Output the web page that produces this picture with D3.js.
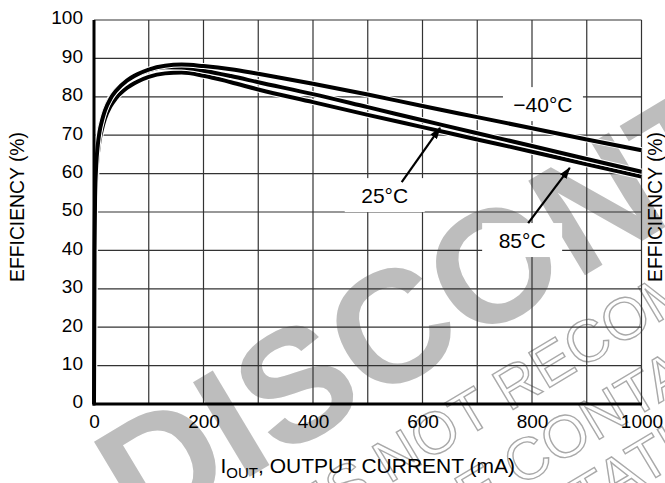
<!DOCTYPE html>
<html>
<head>
<meta charset="utf-8">
<script src="https://cdn.jsdelivr.net/npm/d3@7"></script>
<style>
  body { margin: 0; background: #fff; }
  svg { display: block; }
  text { font-family: "Liberation Sans", Arial, Helvetica, sans-serif; }
</style>
</head>
<body>
<div id="js-svg-container"></div>
<script>
// output current (mA) sampled along the curves
let currents = [0, 1, 2, 4, 7, 10, 15, 20, 30, 40, 60, 80, 100, 130, 160, 200, 250, 300, 400, 500, 600, 700, 800, 900, 1000];

// efficiency (%) per temperature
let effM40 = [0, 40, 54, 62, 67.5, 70.8, 74, 76.4, 79.5, 81.5, 84.2, 85.9, 87.1, 88.1, 88.4, 88.0, 87.2, 86.0, 83.4, 80.6, 77.6, 74.7, 71.8, 68.9, 66.1];
let eff25 = [0, 42, 56, 63.5, 68.5, 71.5, 74.5, 76.8, 79.8, 81.7, 84.2, 85.8, 86.9, 87.7, 87.6, 86.8, 85.4, 83.8, 80.7, 77.3, 73.9, 70.5, 67.2, 63.8, 60.5];
let eff85 = [0, 36, 50, 59, 65, 68.5, 71.8, 74.3, 77.5, 79.6, 82.3, 84.0, 85.2, 86.1, 86.3, 85.5, 83.8, 81.9, 78.6, 75.3, 72.1, 68.9, 65.7, 62.4, 59.2];

let xTicks = [0, 200, 400, 600, 800, 1000];
let yTicks = [0, 10, 20, 30, 40, 50, 60, 70, 80, 90, 100];

// temperature labels, anchored in data units (mA, %)
let tempLabels = ['\u221240\u00b0C', '25\u00b0C', '85\u00b0C'];
let labelCurrent = [820, 531, 782];
let labelEff = [78.1, 54.4, 42.7];

// arrows: [current, efficiency] for tail and tip
let arrowTails = [[562, 57.8], [793, 47.1]];
let arrowTips = [[632, 71.9], [869, 61.5]];

let width = 665, height = 483;
let margin = { top: 20, bottom: 79, left: 94, right: 23.5 };

let x = d3.scaleLinear()
    .domain([0, 1000])
    .range([margin.left, width - margin.right]);

let y = d3.scaleLinear()
    .domain([0, 100])
    .range([height - margin.bottom, margin.top]);

let svg = d3.select('#js-svg-container')
    .append('svg')
    .attr('width', width)
    .attr('height', height);

// ---- watermark (under everything) ----
let wm = svg.append('g').attr('transform', 'translate(389,484) rotate(-31)');

wm.append('text')
    .attr('x', -242)
    .attr('y', -78)
    .attr('fill', '#bdbdbd')
    .style('font-size', '160px')
    .style('font-weight', 'bold')
    .text('DISCONTINUED');

function textWidth(str, size) {
    let t = svg.append('text').style('font-size', size + 'px').text(str);
    let w = t.node().getComputedTextLength();
    t.remove();
    return w;
}

let wmLines = [
    { pre: 'THIS DEVICE IS ', rest: 'NOT RECOMMENDED FOR NEW DESIGN.', x: 0, y: 0 },
    { pre: 'PLEASE ', rest: 'CONTACT YOUR ON SEMICONDUCTOR', x: 110, y: 70 },
    { pre: 'REPRESEN', rest: 'TATIVE FOR INFORMATION', x: 150, y: 132 }
];

wmLines.forEach(l => {
    let pre = l.pre.replace(/ $/, '\u00a0');
    let w = textWidth(pre, 59);
    wm.append('text')
        .attr('x', l.x - w)
        .attr('y', l.y)
        .attr('fill', 'none')
        .attr('stroke', '#a9a9a9')
        .attr('stroke-width', 1.4)
        .style('font-size', '59px')
        .text(pre + l.rest);
});

// ---- grid ----
let grid = svg.append('g');

grid.selectAll('.vgrid')
    .data(x.ticks(10).filter(d => d > 0))
    .enter()
    .append('line')
    .attr('x1', d => x(d)).attr('x2', d => x(d))
    .attr('y1', y(100)).attr('y2', y(0))
    .attr('stroke', '#333')
    .attr('stroke-width', 1.2);

grid.selectAll('.hgrid')
    .data(y.ticks(10).filter(d => d > 0))
    .enter()
    .append('line')
    .attr('x1', x(0)).attr('x2', x(1000))
    .attr('y1', d => y(d)).attr('y2', d => y(d))
    .attr('stroke', '#333')
    .attr('stroke-width', 1.2);

// ---- label boxes (hide grid behind text) ----
let boxW = 80, boxH = 34;
svg.selectAll('.lbox')
    .data(tempLabels)
    .enter()
    .append('rect')
    .attr('x', (d, i) => x(labelCurrent[i]) - boxW / 2)
    .attr('y', (d, i) => y(labelEff[i]) - boxH / 2)
    .attr('width', boxW)
    .attr('height', boxH)
    .attr('fill', '#fff');

svg.selectAll('.ltext')
    .data(tempLabels)
    .enter()
    .append('text')
    .attr('x', (d, i) => x(labelCurrent[i]))
    .attr('y', (d, i) => y(labelEff[i]))
    .attr('dy', '0.36em')
    .attr('text-anchor', 'middle')
    .style('font-size', '21px')
    .text(d => d);

// ---- curves ----
let series = [eff85, eff25, effM40];
let line = d3.line()
    .x((d, i) => x(currents[i]))
    .y(d => y(d))
    .curve(d3.curveMonotoneX);

series.forEach(s => {
    svg.append('path')
        .attr('d', line(s))
        .attr('fill', 'none')
        .attr('stroke', '#fff')
        .attr('stroke-width', 6);
    svg.append('path')
        .attr('d', line(s))
        .attr('fill', 'none')
        .attr('stroke', '#000')
        .attr('stroke-width', 4)
        .attr('stroke-linejoin', 'round');
});

// ---- arrows ----
svg.append('defs').append('marker')
    .attr('id', 'arrow')
    .attr('viewBox', '0 0 12 8')
    .attr('refX', 11).attr('refY', 4)
    .attr('markerWidth', 12).attr('markerHeight', 8)
    .attr('markerUnits', 'userSpaceOnUse')
    .attr('orient', 'auto')
    .append('path')
    .attr('d', 'M0,0 L12,4 L0,8 Z')
    .attr('fill', '#000');

svg.selectAll('.arrow')
    .data(arrowTails)
    .enter()
    .append('line')
    .attr('x1', d => x(d[0])).attr('y1', d => y(d[1]))
    .attr('x2', (d, i) => x(arrowTips[i][0])).attr('y2', (d, i) => y(arrowTips[i][1]))
    .attr('stroke', '#000')
    .attr('stroke-width', 2.2)
    .attr('marker-end', 'url(#arrow)');

// ---- axes ----
let axisX = svg.append('g')
    .attr('transform', 'translate(0,' + y(0) + ')')
    .call(d3.axisBottom(x).tickValues(xTicks).tickFormat(d3.format('d')).tickSize(0).tickPadding(10.5));
axisX.select('.domain').remove();
axisX.selectAll('text').style('font-size', '19px').style('font-family', null);

let axisY = svg.append('g')
    .attr('transform', 'translate(' + x(0) + ',0)')
    .call(d3.axisLeft(y).tickValues(yTicks).tickSize(0).tickPadding(11));
axisY.select('.domain').remove();
axisY.selectAll('text').style('font-size', '19px').style('font-family', null).attr('dy', '0.2em');

svg.append('line')
    .attr('x1', x(0)).attr('x2', x(0))
    .attr('y1', y(100)).attr('y2', y(0) + 1.5)
    .attr('stroke', '#000').attr('stroke-width', 3);
svg.append('line')
    .attr('x1', x(0) - 1.5).attr('x2', x(1000) + 0.5)
    .attr('y1', y(0)).attr('y2', y(0))
    .attr('stroke', '#000').attr('stroke-width', 3);

// ---- titles ----
let xt = svg.append('text')
    .attr('x', (x(0) + x(1000)) / 2)
    .attr('y', 473)
    .attr('text-anchor', 'middle')
    .style('font-size', '21px');
xt.append('tspan').text('I');
xt.append('tspan').attr('dy', 5).style('font-size', '15px').text('OUT');
xt.append('tspan').attr('dy', -5).text(', OUTPUT CURRENT (mA)');

[16.5, 655].forEach(cx => {
    svg.append('text')
        .attr('transform', 'translate(' + cx + ',207) rotate(-90)')
        .attr('text-anchor', 'middle')
        .attr('dy', '0.35em')
        .attr('textLength', 150)
        .attr('lengthAdjust', 'spacingAndGlyphs')
        .style('font-size', '21px')
        .text('EFFICIENCY (%)');
});
</script>
</body>
</html>
